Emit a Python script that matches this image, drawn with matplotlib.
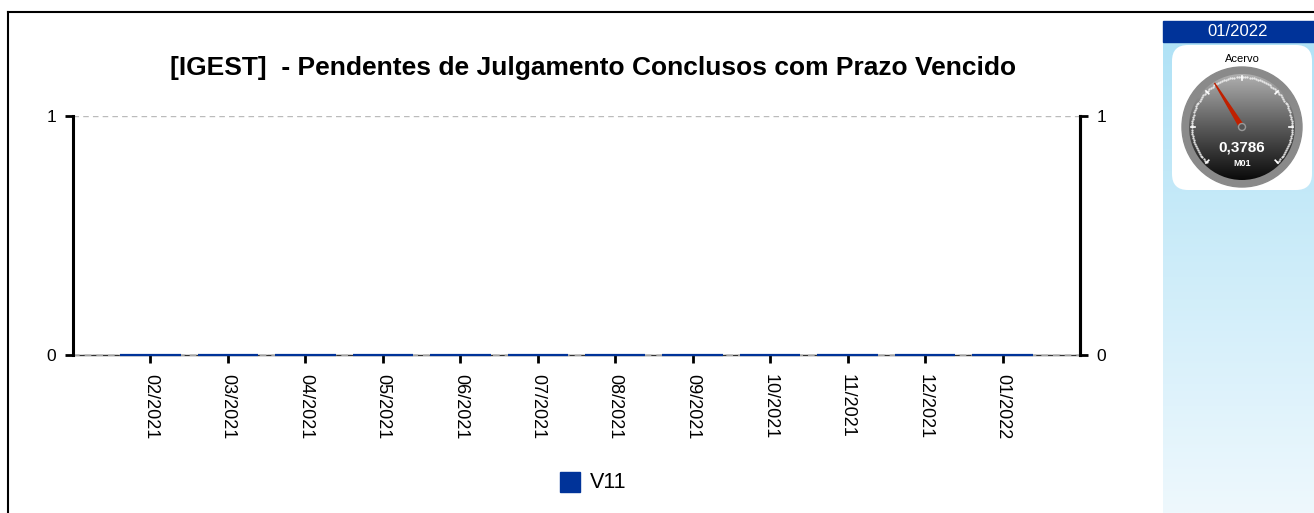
import matplotlib
matplotlib.use("Agg")
import matplotlib.pyplot as plt
import numpy as np
from matplotlib.patches import Circle, FancyBboxPatch, Rectangle, Polygon
from matplotlib.colors import LinearSegmentedColormap

plt.rcParams['font.family'] = ['Liberation Sans', 'DejaVu Sans']

# ---- data ----
months = ["02/2021", "03/2021", "04/2021", "05/2021", "06/2021", "07/2021",
          "08/2021", "09/2021", "10/2021", "11/2021", "12/2021", "01/2022"]
v11 = [0, 0, 0, 0, 0, 0, 0, 0, 0, 0, 0, 0]
series_name = "V11"
title = "[IGEST]  - Pendentes de Julgamento Conclusos com Prazo Vencido"
gauge_period = "01/2022"
gauge_label = "Acervo"
gauge_value = 0.3786
gauge_value_text = "0,3786"
gauge_sub = "M01"

W, H = 1314, 513
fig = plt.figure(figsize=(W / 100, H / 100), dpi=100)

# ---- main chart ----
L, R, T, B = 73, 1080, 116, 355
ax = fig.add_axes([L / W, 1 - B / H, (R - L) / W, (B - T) / H])
x = np.arange(1, len(months) + 1)
ax.axhline(0, color='#333333', linewidth=1.0, clip_on=False, zorder=1)
ax.axhline(0, linestyle=(0, (4, 3)), color='#bbbbbb', linewidth=1.2, clip_on=False, zorder=1.5)
bars = ax.bar(x, v11, width=0.78, color='#003399', edgecolor='#003399', linewidth=1.6, zorder=3)
for b in bars:
    b.set_clip_on(False)
ax.set_xlim(0, 13)
ax.set_ylim(0, 1)
ax.set_yticks([0, 1])
ax.set_xticks(x)
ax.set_xticklabels(months, rotation=270, fontsize=13)
ax.tick_params(axis='x', length=6, width=2, color='black', pad=8)
ax.tick_params(axis='y', length=6, width=2, color='black', labelsize=12.5, pad=6)
ax.yaxis.grid(True, linestyle=(0, (4, 3)), color='#bbbbbb', linewidth=1)
ax.set_axisbelow(True)
for s in ['top', 'bottom']:
    ax.spines[s].set_visible(False)
ax.spines['left'].set_linewidth(2.2)
ax.spines['right'].set_linewidth(2.2)
ax2 = ax.twinx()
ax2.set_ylim(0, 1)
ax2.set_yticks([0, 1])
ax2.tick_params(axis='y', length=6, width=2, color='black', labelsize=12.5, pad=6)
for s in ['top', 'bottom', 'left']:
    ax2.spines[s].set_visible(False)
ax2.spines['right'].set_linewidth(2.2)

fig.text(593 / W, 1 - 68 / H, title, ha='center', va='center',
         fontsize=19, fontweight='bold')

# legend / frame overlay
ov = fig.add_axes([0, 0, 1, 1], zorder=-1)
ov.set_xlim(0, W)
ov.set_ylim(H, 0)
ov.axis('off')
ov.add_patch(Rectangle((560, 472), 20, 20, color='#003399'))
ov.text(590, 483, series_name, fontsize=15.5, va='center', ha='left')
ov.plot([8, W], [12, 12], color='black', lw=1.5)
ov.plot([8, 8], [12, H], color='black', lw=1.5)

# ---- gauge panel ----
gp = fig.add_axes([0, 0, 1, 1], zorder=5)
gp.set_xlim(0, W)
gp.set_ylim(H, 0)
gp.axis('off')
grad = np.linspace(0, 1, 256).reshape(-1, 1)
cm_panel = LinearSegmentedColormap.from_list('p', ['#b0e2f6', '#eef8fd'])
gp.imshow(grad, extent=(1163, W, H, 42), cmap=cm_panel, aspect='auto', zorder=1)
gp.add_patch(Rectangle((1163, 21), W - 1163, 21, color='#003399', zorder=2))
gp.text(1238, 31.5, gauge_period, color='white', fontsize=12, ha='center', va='center', zorder=3)
gp.add_patch(FancyBboxPatch((1180, 53), 124, 129, boxstyle="round,pad=8,rounding_size=16",
                            facecolor='white', edgecolor='none', zorder=2))
gp.text(1242, 59, gauge_label, fontsize=8, ha='center', va='center', zorder=3)

cx, cy = 1242, 127
gp.add_patch(Circle((cx, cy), 60, color='#8a8a8a', zorder=3))
disk = Circle((cx, cy), 53, transform=gp.transData, facecolor='none', edgecolor='none', zorder=4)
gp.add_patch(disk)
cm_disk = LinearSegmentedColormap.from_list('d', ['#b0b0b0', '#5a5a5a', '#0a0a0a'])
im = gp.imshow(grad, extent=(cx - 53, cx + 53, cy + 53, cy - 53), cmap=cm_disk,
               aspect='auto', zorder=4)
im.set_clip_path(disk)
ang = np.linspace(np.radians(225), np.radians(-45), 110)
gp.scatter(cx + 50 * np.cos(ang), cy - 50 * np.sin(ang), s=0.35, color='#eeeeee', zorder=5)
for a in np.linspace(np.radians(225), np.radians(-45), 7):
    gp.plot([cx + 47 * np.cos(a), cx + 51 * np.cos(a)],
            [cy - 47 * np.sin(a), cy - 51 * np.sin(a)], color='white', lw=1.2, zorder=5)
na = np.radians(90 + 32)
tip = (cx + 52 * np.cos(na), cy - 52 * np.sin(na))
perp = na + np.pi / 2
w = 2.2
needle = Polygon([(cx + w * np.cos(perp), cy - w * np.sin(perp)), tip,
                  (cx - w * np.cos(perp), cy + w * np.sin(perp))],
                 closed=True, color='#c02000', zorder=6)
gp.add_patch(needle)
gp.add_patch(Circle((cx, cy), 3.5, facecolor='#555555', edgecolor='#999999', lw=1, zorder=7))
gp.text(cx, 148, gauge_value_text, color='white', fontsize=11, fontweight='bold',
        ha='center', va='center', zorder=7)
gp.text(cx, 163, gauge_sub, color='white', fontsize=6.5, fontweight='bold',
        ha='center', va='center', zorder=7)
gp.set_xlim(0, W)
gp.set_ylim(H, 0)

fig.savefig("out.png", dpi=100)
